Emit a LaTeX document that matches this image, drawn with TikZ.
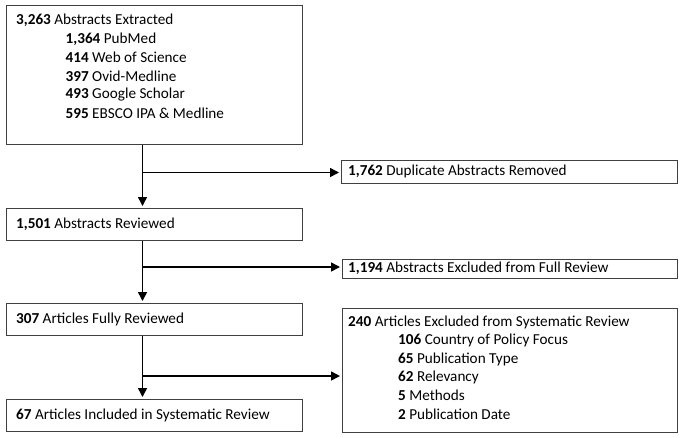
\documentclass[tikz,border=0pt]{standalone}
\usepackage{fontspec}
\setmainfont{Carlito}
\usetikzlibrary{arrows.meta}
\begin{document}
\begin{tikzpicture}[x=1pt,y=-1pt,
  box/.style={draw=black!75, line width=1.3pt, anchor=north west, inner sep=0pt},
  lbl/.style={anchor=west, inner sep=0pt, font=\fontsize{15.2}{18}\selectfont},
  conn/.style={line width=1.5pt, -{Triangle[length=9pt,width=9pt]}, shorten >=2pt},
  plain/.style={line width=1.4pt}]
\useasboundingbox (0,0) rectangle (682,437);
% boxes
\node[box, minimum width=296.5pt, minimum height=139pt] (b1) at (5.5,5) {};
\node[box, minimum width=296.5pt, minimum height=32pt] (b2) at (5.5,208) {};
\node[box, minimum width=296.5pt, minimum height=32pt] (b3) at (5.5,303) {};
\node[box, minimum width=296.5pt, minimum height=32pt] (b4) at (5.5,399) {};
\node[box, minimum width=336pt, minimum height=23pt] (d1) at (341,160) {};
\node[box, minimum width=335pt, minimum height=19pt] (d2) at (342,259) {};
\node[box, minimum width=335pt, minimum height=124pt] (d3) at (342,308) {};
% texts
\node[lbl] (t1) at (16,20) {\textbf{3,263} Abstracts Extracted};
\node[lbl] (t1a) at (65.5,39) {\textbf{1,364} PubMed};
\node[lbl] (t1b) at (65.5,57.5) {\textbf{414} Web of Science};
\node[lbl] (t1c) at (65.5,76) {\textbf{397} Ovid-Medline};
\node[lbl] (t1d) at (65.5,94.5) {\textbf{493} Google Scholar};
\node[lbl] (t1e) at (65.5,113) {\textbf{595} EBSCO IPA \& Medline};
\node[lbl] (t2) at (16,224) {\textbf{1,501} Abstracts Reviewed};
\node[lbl] (t3) at (16,319) {\textbf{307} Articles Fully Reviewed};
\node[lbl] (t4) at (16,415) {\textbf{67} Articles Included in Systematic Review};
\node[lbl] (u1) at (348,171.5) {\textbf{1,762} Duplicate Abstracts Removed};
\node[lbl] (u2) at (348,268.5) {\textbf{1,194} Abstracts Excluded from Full Review};
\node[lbl] (u3) at (348,322) {\textbf{240} Articles Excluded from Systematic Review};
\node[lbl] (u3a) at (398,340.5) {\textbf{106} Country of Policy Focus};
\node[lbl] (u3b) at (398,359) {\textbf{65} Publication Type};
\node[lbl] (u3c) at (398,377) {\textbf{62} Relevancy};
\node[lbl] (u3d) at (398,395.5) {\textbf{5} Methods};
\node[lbl] (u3e) at (398,414) {\textbf{2} Publication Date};
% connectors
\coordinate (s) at (142.5,0);
\coordinate (j1) at (142.5,172.5);
\coordinate (j2) at (142.5,267);
\coordinate (j3) at (142.5,376);
\draw[conn] (s |- b1.south) -- (s |- b2.north);
\draw[conn] (j1) -- (j1 -| d1.west);
\draw[conn] (s |- b2.south) -- (s |- b3.north);
\draw[conn] (j2) -- (j2 -| d2.west);
\draw[conn] (s |- b3.south) -- (s |- b4.north);
\draw[conn] (j3) -- (j3 -| d3.west);
\end{tikzpicture}
\end{document}
